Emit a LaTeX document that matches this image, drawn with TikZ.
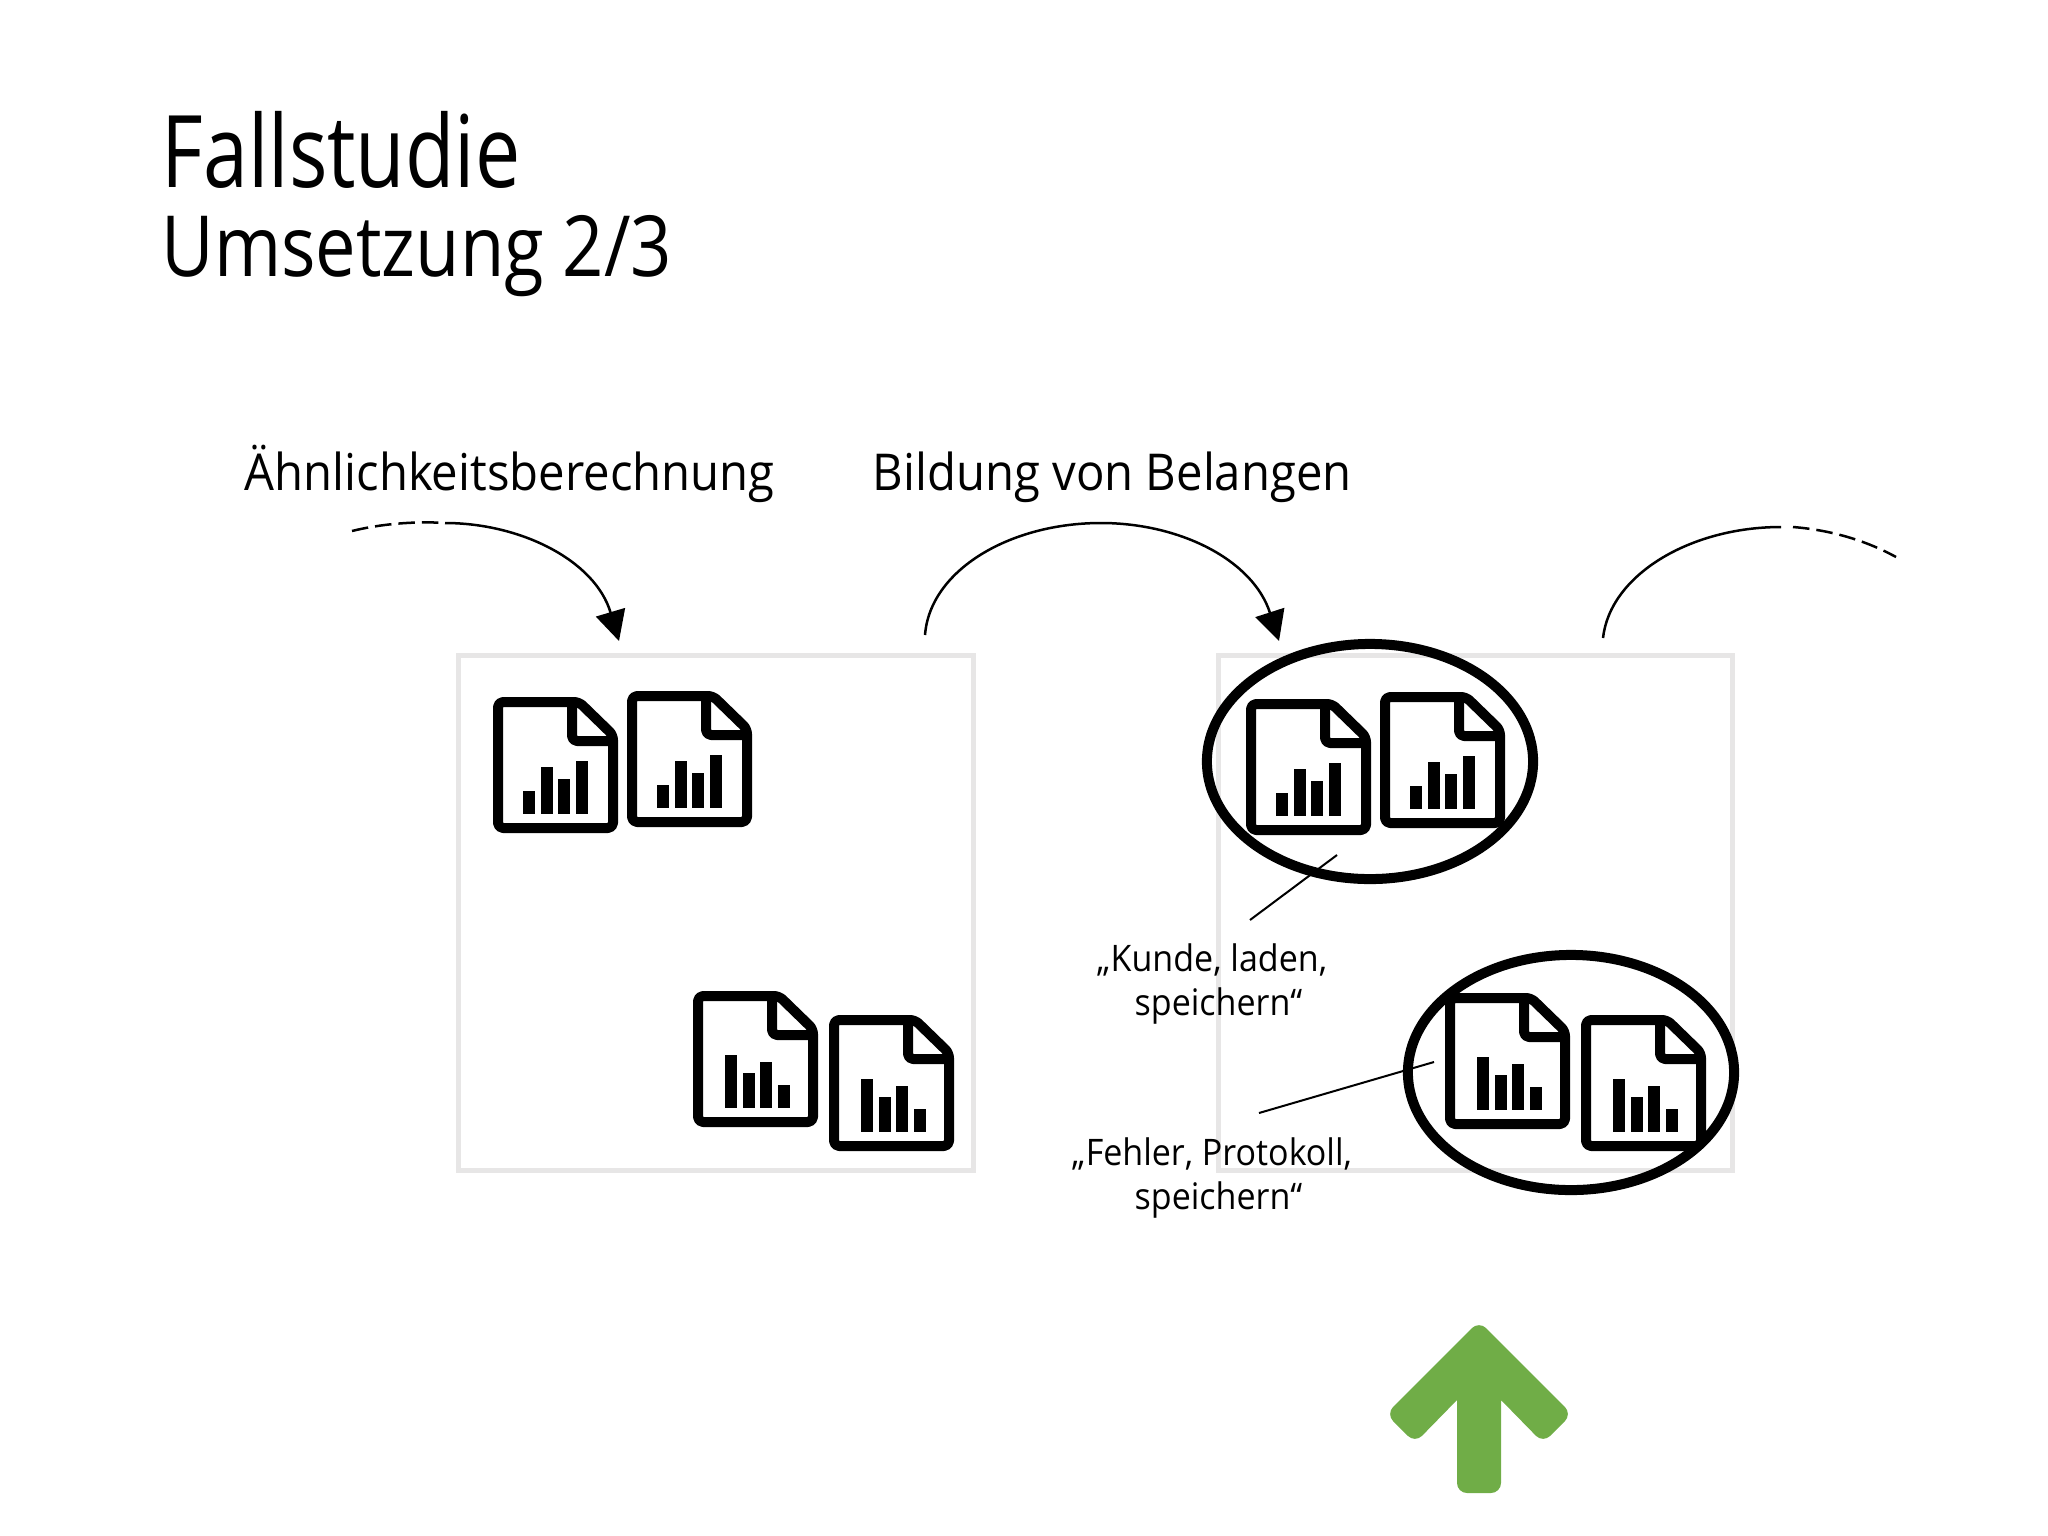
\documentclass[tikz,border=0pt]{standalone}
\usepackage{fontspec}
\usepackage{xcolor}
\setmainfont[FakeStretch=0.93]{Open Sans}
\newfontfamily\titlefont[FakeStretch=0.805]{Open Sans}
\newfontfamily\subtitlefont[FakeStretch=0.856]{Open Sans}
\usetikzlibrary{positioning, shapes.geometric, arrows.meta}
\definecolor{panelgray}{HTML}{E7E6E6}
\definecolor{arrowgreen}{HTML}{70AD47}
\tikzstyle{heading} = [anchor=base west, inner sep=0pt, font=\fontsize{14.45pt}{17pt}\selectfont]
\tikzstyle{caption} = [align=center, inner sep=0pt, font=\fontsize{10.4pt}{12.5pt}\selectfont]
\tikzstyle{panel} = [rectangle, minimum width=5.14cm, minimum height=5.14cm, draw=panelgray, line width=0.05cm]
\tikzstyle{cluster} = [ellipse, minimum width=3.26cm, minimum height=2.35cm, draw=black, line width=0.1cm]
\tikzstyle{arrow} = [line width=0.025cm,-{Triangle[length=0.3cm,width=0.3cm]}]
\tikzstyle{arc} = [line width=0.025cm]
\tikzstyle{dashedarc} = [line width=0.025cm, dash pattern=on 0.165cm off 0.07cm]
\tikzstyle{leader} = [line width=0.02cm]
\tikzset{report/.pic={
	\draw[line width=0.1cm, line join=round, rounded corners=0.05cm] (5,5) -- (86,5) -- (120,38) -- (120,131) -- (5,131) -- cycle;
	\draw[line width=0.1cm, line join=round, rounded corners=0.05cm] (79,5) -- (79,44) -- (120,44);
	\foreach \bx/\h in {#1} {
		\fill (\bx,\h) rectangle ++(12,{117-\h});
	}
}}
\newcommand{\barsup}{30/94,48/70,65/82,83/64}
\newcommand{\barsdown}{32/64,50/82,67/71,85/94}
\begin{document}
\begin{tikzpicture}[x=0.01cm,y=-0.01cm]
		\useasboundingbox (0,0) rectangle (2048,1536);
		\node (title) [anchor=base west, inner sep=0pt, font=\titlefont\fontsize{28.5pt}{34pt}\selectfont] at (161,187) {Fallstudie};
		\node (subtitle) [anchor=base west, inner sep=0pt, font=\subtitlefont\fontsize{24pt}{29pt}\selectfont] at (161,276) {Umsetzung 2/3};
		\node (simhead) [heading] at (244,490) {Ähnlichkeitsberechnung};
		\node (conhead) [heading] at (872,490) {Bildung von Belangen};
		\node (panelL) [panel] at (716,913) {};
		\node (panelR) [panel] at (1475.5,913) {};
		% documents, left panel
		\pic (docA) at (493,697) {report/.expanded=\barsup};
		\pic (docB) at (627,691) {report/.expanded=\barsup};
		\pic (docC) at (693,991) {report/.expanded=\barsdown};
		\pic (docD) at (829,1015) {report/.expanded=\barsdown};
		% documents, right panel
		\pic (docE) at (1246,699) {report/.expanded=\barsup};
		\pic (docF) at (1380,692) {report/.expanded=\barsup};
		\pic (docG) at (1445,993) {report/.expanded=\barsdown};
		\pic (docH) at (1581,1015) {report/.expanded=\barsdown};
		\node (clusterA) [cluster] at (1370,761.5) {};
		\node (clusterB) [cluster] at (1571,1072.5) {};
		\node (kunde) [caption] at (1212,984) {„Kunde, laden,\\\hspace*{0.13cm}speichern“};
		\node (fehler) [caption] at (1212,1178) {„Fehler, Protokoll,\\\hspace*{0.13cm}speichern“};
		% leader lines
		\coordinate (kundeTop) at (1250,920);
		\coordinate (kundeEnd) at (1337,855);
		\coordinate (fehlerTop) at (1259,1113);
		\coordinate (fehlerEnd) at (1434,1062);
		\draw [leader](kundeTop) -- (kundeEnd);
		\draw [leader](fehlerTop) -- (fehlerEnd);
		% curved arrows
		\coordinate (inA) at (352,531);
		\coordinate (inB) at (445,523);
		\coordinate (tipL) at (619,641);
		\coordinate (outL) at (925,635);
		\coordinate (topM) at (1101,523);
		\coordinate (tipR) at (1279,641);
		\coordinate (outR) at (1603,638);
		\coordinate (topR) at (1781,527);
		\coordinate (endR) at (1793,527);
		\coordinate (endS) at (1896,557);
		\draw [dashedarc](inA) .. controls (380,524) and (415,521) .. (inB);
		\draw [arrow](inB) .. controls (520,523) and (595,560) .. (tipL);
		\draw [arrow](outL) .. controls (930,570) and (1010,523) .. (topM) .. controls (1180,523) and (1253,560) .. (tipR);
		\draw [arc](outR) .. controls (1610,575) and (1690,527) .. (topR);
		\draw [dashedarc](endR) .. controls (1830,530) and (1865,540) .. (endS);
		% green arrow
		\fill [arrowgreen, rounded corners=0.1cm] (1479,1321) -- (1572,1414) -- (1543,1443) [sharp corners] -- (1501,1400) [rounded corners=0.1cm] -- (1501,1493) -- (1457,1493) [sharp corners] -- (1457,1400) [rounded corners=0.1cm] -- (1415,1443) -- (1386,1414) -- cycle;
	\end{tikzpicture}
\end{document}
